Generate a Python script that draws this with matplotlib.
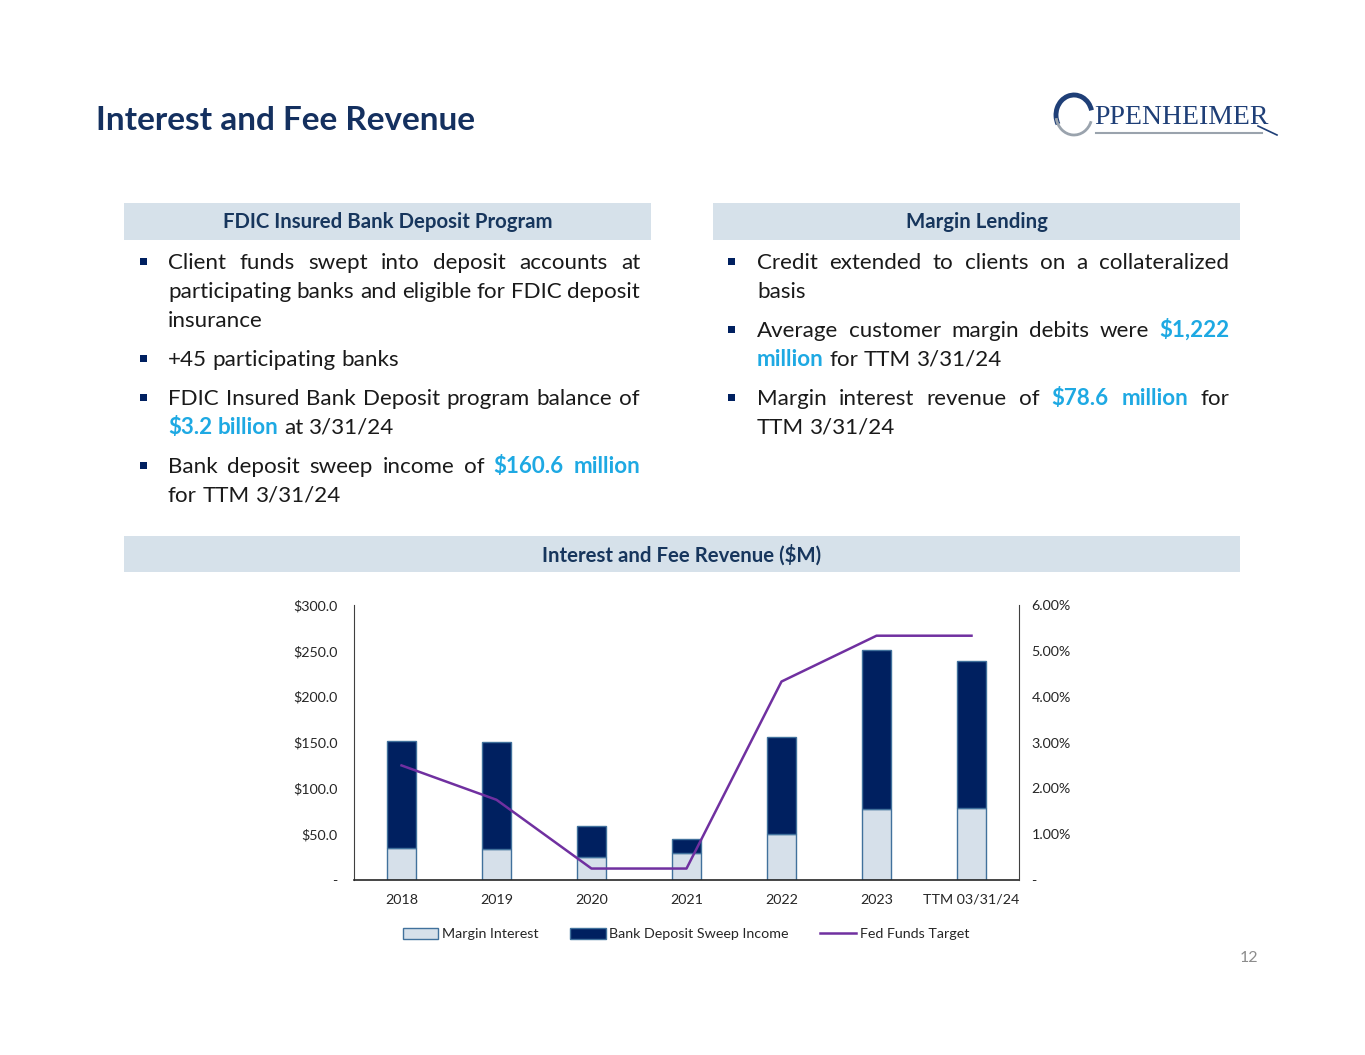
import matplotlib
matplotlib.use('Agg')
import matplotlib.pyplot as plt
from matplotlib.patches import Rectangle, Arc, Patch
from matplotlib.lines import Line2D
import numpy as np

# ---------------- data ----------------
categories = ['2018', '2019', '2020', '2021', '2022', '2023', 'TTM 03/31/24']
margin_interest = [35.4, 33.6, 24.8, 29.2, 50.7, 77.7, 78.6]
sweep_income = [116.1, 116.8, 34.3, 15.3, 104.8, 173.0, 160.6]
fed_funds_pct = [2.50, 1.75, 0.25, 0.25, 4.33, 5.33, 5.33]
left_ticks = [0, 50, 100, 150, 200, 250, 300]
right_ticks = [0, 1, 2, 3, 4, 5, 6]
series_names = ['Margin Interest', 'Bank Deposit Sweep Income', 'Fed Funds Target']

title = 'Interest and Fee Revenue'
left_header = 'FDIC Insured Bank Deposit Program'
right_header = 'Margin Lending'
chart_header = 'Interest and Fee Revenue ($M)'
page_number = '12'

N, H = 'n', 'h'   # normal / highlighted
left_bullets = [
    [[("Client funds swept into deposit accounts at", N)],
     [("participating banks and eligible for FDIC deposit", N)],
     [("insurance", N)]],
    [[("+45 participating banks", N)]],
    [[("FDIC Insured Bank Deposit program balance of", N)],
     [("$3.2 billion", H), ("at 3/31/24", N)]],
    [[("Bank deposit sweep income of", N), ("$160.6 million", H)],
     [("for TTM 3/31/24", N)]],
]
right_bullets = [
    [[("Credit extended to clients on a collateralized", N)],
     [("basis", N)]],
    [[("Average customer margin debits were", N), ("$1,222", H)],
     [("million", H), ("for TTM 3/31/24", N)]],
    [[("Margin interest revenue of", N), ("$78.6 million", H), ("for", N)],
     [("TTM 3/31/24", N)]],
]
left_par_y = [262, 359, 398, 466]
right_par_y = [262, 330, 398]

# ---------------- style ----------------
FONT = 'Lato'
plt.rcParams['font.family'] = [FONT, 'DejaVu Sans']
NAVY = '#17365d'
TITLE_C = '#14305f'
HDR_BG = '#d6e1ea'
HILITE = '#1ea9e3'
TXT = '#1a1a1a'
SWEEP_C = '#002060'
MARGIN_C = '#d6e0ea'
EDGE_C = '#41719c'
LINE_C = '#7030a0'

W, Hh = 1365, 1055
fig = plt.figure(figsize=(W / 100, Hh / 100), dpi=100)
fig.patch.set_facecolor('white')
ov = fig.add_axes([0, 0, 1, 1], zorder=0)
ov.set_xlim(0, W)
ov.set_ylim(Hh, 0)
ov.axis('off')
renderer = fig.canvas.get_renderer()


def text_width(s, size, weight='normal'):
    t = ov.text(0, 0, s, fontsize=size, fontweight=weight)
    w = t.get_window_extent(renderer).width
    t.remove()
    return w


def fit_size(s, target, weight='normal'):
    return 20 * target / text_width(s, 20, weight)


body_size = fit_size("participating banks and eligible for FDIC deposit", 472)
hdr_size = fit_size(left_header, 330, 'bold')
title_size = fit_size(title, 379, 'bold')

# title
ov.text(96, 120, title, fontsize=title_size, fontweight='bold', color=TITLE_C,
        ha='left', va='center')

# header boxes
for (x0, x1, y0, y1, s) in [(124, 651, 203, 240, left_header),
                            (713, 1240, 203, 240, right_header),
                            (124, 1240, 536, 572, chart_header)]:
    ov.add_patch(Rectangle((x0, y0), x1 - x0, y1 - y0, facecolor=HDR_BG,
                           edgecolor='none'))
    ov.text((x0 + x1) / 2, (y0 + y1) / 2 + 1, s, fontsize=hdr_size,
            fontweight='bold', color=NAVY, ha='center', va='center')

space_w = text_width("a a", body_size) - 2 * text_width("a", body_size)


def draw_line(segs, x0, x1, y, justify):
    words = []
    for s, style in segs:
        for w in s.split(' '):
            words.append((w, style))
    widths = [text_width(w, body_size, 'bold' if st == H else 'normal')
              for w, st in words]
    if justify and len(words) > 1:
        gap = (x1 - x0 - sum(widths)) / (len(words) - 1)
    else:
        gap = space_w
    x = x0
    for (w, st), wd in zip(words, widths):
        ov.text(x, y, w, fontsize=body_size,
                fontweight='bold' if st == H else 'normal',
                color=HILITE if st == H else TXT, ha='left', va='baseline')
        x += wd + gap


def draw_bullets(bullets, par_y, bx, x0, x1):
    for par, yc in zip(bullets, par_y):
        ov.add_patch(Rectangle((bx - 3.5, yc - 4.5), 7, 7, facecolor=SWEEP_C,
                               edgecolor='none'))
        for i, segs in enumerate(par):
            draw_line(segs, x0, x1, yc + 7 + 29 * i, i < len(par) - 1)


draw_bullets(left_bullets, left_par_y, 143, 168, 640)
draw_bullets(right_bullets, right_par_y, 731, 757, 1229)

# page number
ov.text(1249, 958, page_number, fontsize=11.5, color='#8c8c8c',
        ha='center', va='center')

# logo
ov.add_patch(Arc((1074, 115), 36, 40, theta1=150, theta2=345,
                 color='#1f3f77', lw=3.5))
ov.add_patch(Arc((1074, 115), 36, 40, theta1=20, theta2=170,
                 color='#9aa3ad', lw=2.0))
ov.text(1094, 117, 'PPENHEIMER', family=['Liberation Serif', 'DejaVu Serif'],
        fontsize=20, color='#1f3f77', ha='left', va='center')
ov.plot([1096, 1262], [133, 133], color='#9aa3ad', lw=1.5)
ov.plot([1258, 1277], [126, 135], color='#1f3f77', lw=1.2)

# ---------------- chart ----------------
ax = fig.add_axes([354 / W, 1 - 880 / Hh, 665 / W, 275 / Hh], zorder=2)
ax.patch.set_alpha(0)
x = np.arange(len(categories))
bw = 0.31
ax.bar(x, margin_interest, bw, color=MARGIN_C, edgecolor=EDGE_C, lw=1.0,
       label=series_names[0], zorder=2)
ax.bar(x, sweep_income, bw, bottom=margin_interest, color=SWEEP_C,
       edgecolor=EDGE_C, lw=1.0, label=series_names[1], zorder=2)
ax.set_xlim(-0.5, len(categories) - 0.5)
ax.set_ylim(0, 300)
ax.set_yticks(left_ticks)
ax.set_yticklabels(['-' if v == 0 else f'${v:.1f}' for v in left_ticks])
ax.set_xticks(x)
ax.set_xticklabels(categories)
tick_c = '#262626'
TS = 10.3
ax.tick_params(axis='y', length=0, pad=12, labelsize=TS, labelcolor=tick_c)
ax.tick_params(axis='x', length=0, pad=10, labelsize=TS, labelcolor=tick_c)
for s in ['top', 'right']:
    ax.spines[s].set_visible(False)
ax.spines['left'].set_color('#404040')
ax.spines['bottom'].set_color('#262626')
ax.spines['bottom'].set_linewidth(1.2)

ax2 = ax.twinx()
ax2.plot(x, fed_funds_pct, color=LINE_C, lw=1.8, zorder=3)
ax2.set_ylim(0, 6)
ax2.set_yticks(right_ticks)
ax2.set_yticklabels(['-' if v == 0 else f'{v:.2f}%' for v in right_ticks])
ax2.tick_params(axis='y', length=0, pad=9, labelsize=TS, labelcolor=tick_c)
for s in ['top', 'left', 'bottom']:
    ax2.spines[s].set_visible(False)
ax2.spines['right'].set_color('#404040')

handles = [Patch(facecolor=MARGIN_C, edgecolor=EDGE_C, lw=1.0),
           Patch(facecolor=SWEEP_C, edgecolor=EDGE_C, lw=1.0),
           Line2D([], [], color=LINE_C, lw=1.8)]
fig.legend(handles, series_names, loc='center',
           bbox_to_anchor=(686 / W, 1 - 934 / Hh), ncol=3, frameon=False,
           fontsize=TS, handlelength=2.5, handleheight=0.9,
           handletextpad=0.25, columnspacing=2.2, labelcolor=tick_c)

fig.savefig('out.png', dpi=100, facecolor='white')
